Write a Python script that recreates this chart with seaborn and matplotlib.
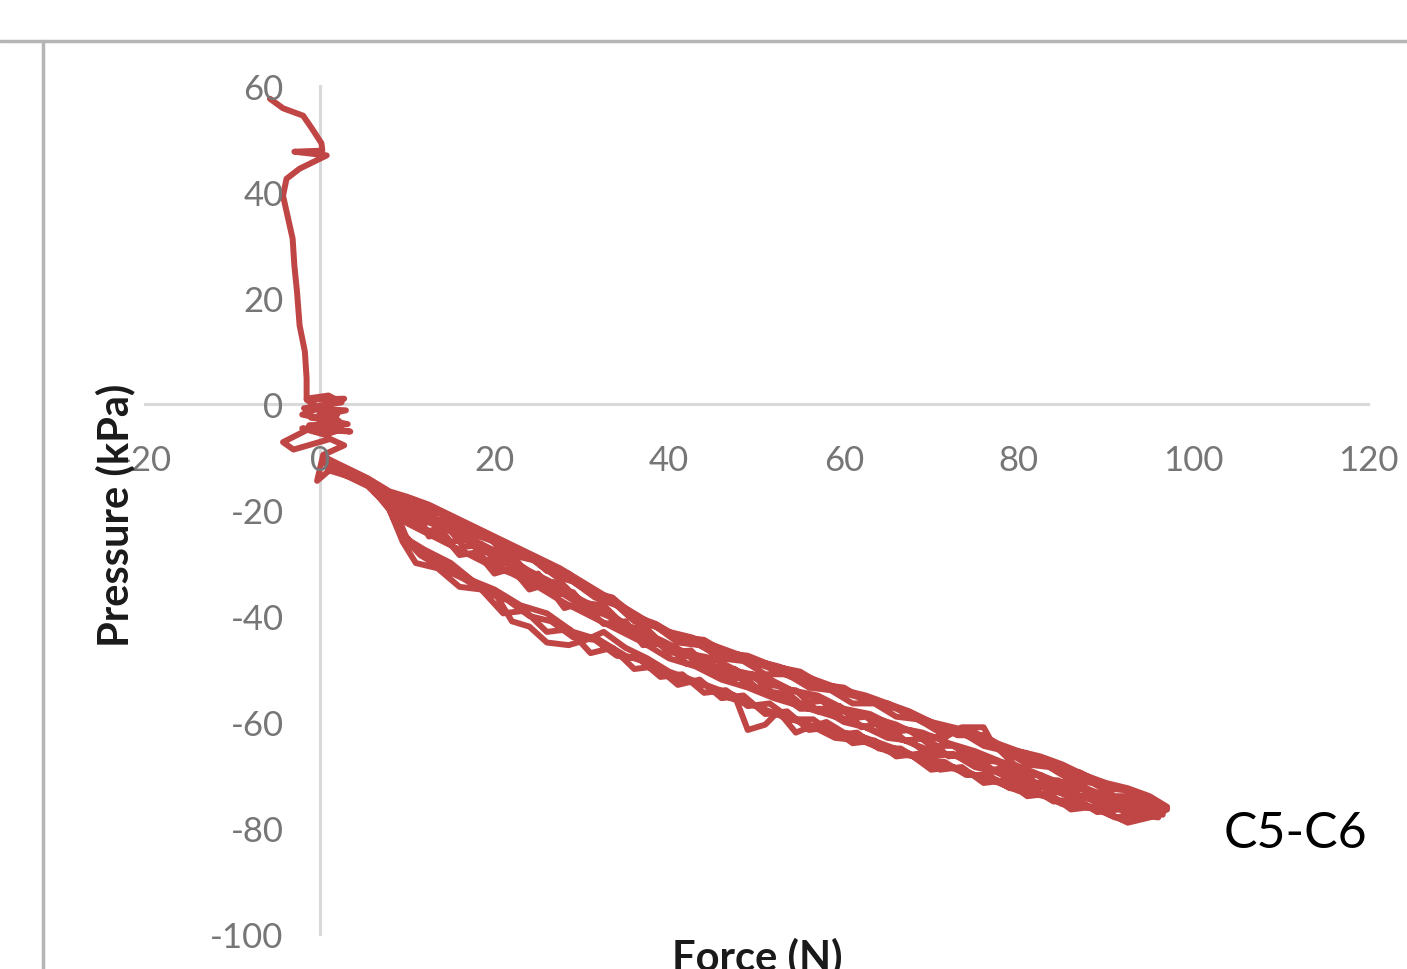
import matplotlib
matplotlib.use("Agg")
import matplotlib.pyplot as plt
from matplotlib.lines import Line2D
import seaborn as sns
import pandas as pd

# ---------------- data ----------------
descent_force = [-5.7, -4.2, -1.9, -0.9, 0.2, 0.3, -2.9, 0.8, -2.3, -3.8, -4.2, -3.7,
                 -3.1, -2.9, -2.6, -2.3, -1.7, -1.5, -1.5]
descent_pressure = [57.6, 55.8, 54.4, 52.0, 49.2, 47.8, 47.6, 46.9, 44.4, 42.5, 39.3, 35.6,
                    31.2, 26.1, 21.2, 14.8, 9.9, 4.8, 1.0]

origin_force = [1.0, 2.5, -1.8, 3.0, -1.0, 2.2, -1.5, 2.8, -2.0, 3.2, -1.2, 3.5, -2.0, 0.6,
                2.5, 0.0, 2.0, -4.2, -3.0, 1.2, 2.8, 0.4, -0.3, 1.6, 3.5, 0.8]
origin_pressure = [1.6, 0.3, -0.8, -1.2, -2.6, -3.2, 0.8, 1.0, -2.0, -3.8, -4.0, -5.2, -4.6, -5.8,
                   -4.8, -1.5, -2.0, -7.2, -8.6, -6.6, -7.8, -9.6, -14.5, -11.8, -13.0, -10.8]

pass1_force = [1, 3, 5.5, 8, 10, 12, 14, 15.5, 17.5, 20, 22, 24.5, 27, 29, 31.5, 34, 36, 38.5, 41,
               43.5, 46, 48.5, 51, 53.5, 56, 58.5, 61, 63.5, 66, 68.5, 71, 73.5, 76, 78.5, 81,
               83.5, 86, 88.5, 91, 93.5, 96]
pass1_pressure = [-11, -12.5, -14.5, -17, -19, -21, -22, -22.5, -24.5, -26, -28.5, -29.5, -32.5,
                  -33.5, -36.5, -38, -41, -42, -45, -45.5, -48, -48.5, -51, -51, -53.5, -54,
                  -56.5, -56.5, -59, -59.5, -62, -62, -64.5, -65.5, -68, -68.5, -71, -71.5, -74,
                  -74, -76]

pass2_force = [96.5, 94, 91.5, 89, 86.5, 84, 81.5, 79, 76.5, 74, 71.5, 69, 66.5, 64, 61.5, 59,
               56.5, 54, 51.5, 49, 46.5, 44, 41.5, 39, 36.5, 34, 31.5, 29, 26.5, 24, 21.5, 19,
               16.5, 14, 11.5, 9.5, 8, 5.5, 3, 1]
pass2_pressure = [-77, -78, -76.5, -77, -74.5, -75, -72.5, -72.5, -70, -70, -67.5, -67.5, -65,
                  -65, -62, -62.5, -59.5, -59.5, -56.5, -57, -54, -54.5, -51, -51.5, -48, -47.5,
                  -44.5, -44, -41, -40, -37, -35.5, -33, -31, -28.5, -25, -19.5, -15.5, -13.5, -12]

pass3_force = [0.5, 3, 5.5, 8, 9.5, 11, 12.5, 14, 16, 18, 20, 22, 24, 26, 28, 30, 32.5, 35, 37,
               39.5, 42, 44.5, 47, 49.5, 52, 54.5, 57, 59.5, 62, 64.5, 67, 69.5, 72, 74.5, 77,
               79.5, 82, 84.5, 87, 89.5, 92, 94.5, 96.5]
pass3_pressure = [-10.5, -13, -15, -18, -22, -20.5, -25, -24.5, -28.5, -28, -32, -31, -35, -34,
                  -38.5, -37.5, -41.5, -41, -45.5, -45, -49, -48.5, -52, -51, -55, -54, -58, -57,
                  -61, -60, -63.5, -63, -66.5, -65.5, -69, -68.5, -71.5, -71, -74, -73.5, -76.5,
                  -76, -77.5]

pass4_force = [96, 93, 90, 87, 84, 81, 78, 75, 72, 69, 66, 63, 60, 57, 54, 51, 48, 45, 42, 39,
               36, 33, 30, 27, 24, 21, 18, 15, 12, 9, 6, 3, 0.5]
pass4_pressure = [-75.5, -73, -72.5, -70.5, -68.5, -67, -65, -63, -61.5, -60, -57.5, -56, -54.5,
                  -53, -51.5, -49.5, -48, -46.5, -44.5, -42.5, -40, -37, -34.5, -31.5, -29, -26.5,
                  -24, -21.5, -19.5, -18.5, -15, -12.5, -10]

pass5_force = [1, 3.5, 6, 8.5, 10, 12, 15, 18, 20, 22, 24, 26, 28.5, 30.5, 32.5, 35, 37.5, 40,
               42.5, 45, 47.5, 49, 51, 52.5, 54.5, 56, 58, 60, 62.5, 65, 67.5, 70, 72.5, 75,
               77.5, 80, 82.5, 85, 87.5, 90, 92.5, 95]
pass5_pressure = [-11.5, -13.5, -15.5, -19.5, -25.5, -27.5, -30, -34, -35.5, -41, -42, -45, -45.5,
                  -44.5, -43, -46, -48, -50.5, -52, -53.5, -55, -61.5, -60.5, -58, -62, -61, -60,
                  -62, -63, -64.5, -66, -69, -68.5, -70, -71, -72, -73.5, -75.5, -75.5, -77, -79,
                  -78]

pass6_force = [97, 94, 91, 88, 85, 82, 79.5, 77, 76, 73.5, 71.5, 68.5, 66, 63, 60, 57, 54, 51,
               48, 45, 42, 39, 36, 33, 30, 27, 24, 21, 18, 15, 12, 9, 6.5, 3, 0.5]
pass6_pressure = [-76.5, -75.5, -75, -73, -72, -70, -68, -64, -61, -61, -63, -62.5, -60.5, -59,
                  -58, -55.5, -54, -52.5, -50.5, -49.5, -47.5, -45.5, -43, -40, -38, -35, -32.5,
                  -29.5, -27, -24, -22, -20, -15.5, -13, -11]

pass7_force = [1, 4, 7, 9.5, 11.5, 14, 16, 19, 21, 23.5, 26, 28.5, 31, 33.5, 36, 38.5, 41, 44,
               46.5, 49, 52, 55, 57.5, 60, 62.5, 65, 67.5, 70, 73, 76, 78.5, 81, 84, 87, 90, 93,
               95.5]
pass7_pressure = [-10.5, -13.5, -16, -18, -20.5, -20.5, -24, -24.5, -28, -28, -31.5, -32, -35.5,
                  -36.5, -40, -41.5, -44, -44.5, -47, -47.5, -49.5, -50.5, -53, -53.5, -56, -56.5,
                  -58.5, -60, -62.5, -62.5, -65, -66, -68.5, -69.5, -72, -73, -75]

pass8_force = [95, 92, 89, 86, 83, 80, 77, 74, 71, 68, 65, 62, 59, 56, 53, 50, 47, 44, 41, 38,
               35, 32, 29, 26, 23, 20, 17, 14, 11, 9, 7, 4, 1]
pass8_pressure = [-77.5, -78.5, -76.5, -75.5, -74, -73, -71, -69.5, -68, -66.5, -65.5, -63.5, -63,
                  -60.5, -59, -57, -55.5, -53, -52, -49, -47.5, -44.5, -43, -39.5, -38, -35, -33,
                  -30, -27, -23.5, -16.5, -14, -12.5]

pass9_force = [1, 4, 7, 9, 11, 13, 15, 17, 19, 21, 23, 25, 27, 29, 31, 33, 35, 37.5, 40, 42.5,
               45, 47.5, 50, 52.5, 55, 57.5, 60, 62.5, 65, 67.5, 70, 72.5, 75, 77.5, 80, 82.5,
               85, 87.5, 90, 92.5, 95]
pass9_pressure = [-11.5, -13, -16, -18.5, -23, -22, -26, -25.5, -29.5, -29, -33, -32, -36, -35.5,
                  -39.5, -39, -43, -43, -47, -46.5, -50.5, -50, -53.5, -53, -56.5, -56, -59.5, -59,
                  -62, -61.5, -64.5, -64.5, -67, -67.5, -70, -70, -72.5, -72.5, -75, -75, -77]

pass10_force = [96, 93.5, 91, 88.5, 86, 83.5, 81, 78.5, 76, 73.5, 71, 68.5, 66, 63.5, 61, 58.5,
                56, 53.5, 51, 48.5, 46, 43.5, 41, 38.5, 36, 33.5, 31, 28.5, 26, 23.5, 21, 18.5,
                16, 13.5, 11, 9.5, 8, 5.5, 3, 1]
pass10_pressure = [-78, -77.5, -78, -76, -76.5, -73.5, -74, -71, -71.5, -68.5, -69, -66, -66.5,
                   -63.5, -64, -61, -61.5, -58, -58.5, -55, -55.5, -52, -53, -49.5, -50, -46, -47,
                   -42.5, -43, -39, -39.5, -35, -34.5, -31, -30, -26, -20, -15, -13, -11.5]

pass11_force = [0.5, 3, 5.5, 8, 10, 12.5, 15, 17.5, 20, 22.5, 25, 27.5, 30, 32.5, 35, 37.5, 40,
                42.5, 45, 47.5, 50, 52.5, 55, 57.5, 60, 62.5, 65, 67.5, 70, 72.5, 75, 77.5, 80,
                82.5, 85, 87.5, 90, 92.5, 95, 97]
pass11_pressure = [-10, -12, -14, -16.5, -17.5, -19, -21, -23, -25, -27, -29, -31, -33.5, -36,
                   -38.5, -41, -43, -44, -45.5, -47, -48.5, -49.5, -51, -52.5, -54, -55, -56.5,
                   -58, -60, -61, -62, -64, -65.5, -66.5, -68, -70, -71.5, -72.5, -74, -76]

pass12_force = [96.5, 94, 91, 88, 85, 82, 79, 76, 73, 70, 67, 64, 61, 58, 55, 52, 49, 46, 43,
                40, 37, 34, 31, 28, 25, 22, 19, 16, 13, 10, 8, 5, 2.5, 0.5]
pass12_pressure = [-77, -76.5, -76, -74.5, -73.5, -72, -70, -68.5, -66.5, -65.5, -63.5, -62, -60,
                   -58.5, -57, -55.5, -53.5, -52, -49.5, -48, -45, -42.5, -40, -37.5, -34.5, -32,
                   -30, -27.5, -25, -22.5, -18, -14.5, -12.5, -10.5]

pass13_force = [1, 3.5, 6, 8.5, 10.5, 12.5, 14.5, 16.5, 18.5, 20.5, 22.5, 25, 27.5, 30, 32.5, 35,
                37.5, 40, 42.5, 45, 47.5, 50, 52.5, 55, 57.5, 60, 62.5, 65, 67.5, 70, 72.5, 75,
                77.5, 80, 82.5, 85, 87.5, 90, 92.5, 95]
pass13_pressure = [-11, -12.5, -15, -19, -21.5, -24, -23, -27, -26.5, -30.5, -29.5, -34, -33.5,
                   -37.5, -38, -42, -42.5, -46.5, -47.5, -50.5, -51, -54, -54.5, -57.5, -57.5, -60,
                   -61, -63, -63.5, -66.5, -66, -68.5, -69.5, -71.5, -71.5, -73.5, -74, -76,
                   -76.5, -76.5]

pass14_force = [96, 93, 90, 87, 84, 81, 78, 75, 72, 69, 66, 63, 60, 57, 54, 51, 48, 45, 42, 39,
                36, 33, 30, 27, 24, 21, 18, 15, 12, 9, 6, 3, 0.5]
pass14_pressure = [-76, -74.5, -74, -72, -71, -69, -67.5, -65.5, -64, -62, -61, -58.5, -57.5, -55,
                   -54, -51.5, -50.5, -48, -47, -44.5, -42.5, -39.5, -37, -34, -31.5, -28.5, -26,
                   -23.5, -21, -19.5, -15.5, -12.5, -10.5]

x_ticks = [-20, 0, 20, 40, 60, 80, 100, 120]
y_ticks = [-100, -80, -60, -40, -20, 0, 20, 40, 60]
label_text = "C5-C6"

# ---------------- assemble path ----------------
force_all = (descent_force + origin_force + pass1_force + pass2_force + pass3_force + pass4_force
             + pass5_force + pass6_force + pass7_force + pass8_force + pass9_force
             + pass10_force + pass11_force + pass12_force + pass13_force + pass14_force)
pressure_all = (descent_pressure + origin_pressure + pass1_pressure + pass2_pressure
                + pass3_pressure + pass4_pressure + pass5_pressure + pass6_pressure
                + pass7_pressure + pass8_pressure + pass9_pressure + pass10_pressure
                + pass11_pressure + pass12_pressure + pass13_pressure + pass14_pressure)
df = pd.DataFrame({"Force (N)": force_all, "Pressure (kPa)": pressure_all})

# ---------------- style ----------------
sns.set_theme(style="white")
plt.rcParams["font.family"] = ["Lato", "DejaVu Sans"]
plt.rcParams["axes.unicode_minus"] = False

W, H = 1407, 970
fig = plt.figure(figsize=(W / 100, H / 100), dpi=100)
ax = fig.add_axes([145 / W, 1 - 935 / H, 1223 / W, 848 / H])
ax.set_facecolor("none")

sns.lineplot(data=df, x="Force (N)", y="Pressure (kPa)", sort=False, estimator=None,
             color="#C04545", linewidth=4.3, ax=ax, zorder=2)

ax.set_xlim(-20, 120)
ax.set_ylim(-100, 60)
ax.set_xticks(x_ticks)
ax.set_yticks(y_ticks)
ax.set_xlabel("")
ax.set_ylabel("")

for s in ["top", "right"]:
    ax.spines[s].set_visible(False)
ax.spines["left"].set_position(("data", 0))
ax.spines["bottom"].set_position(("data", 0))
for s in ["left", "bottom"]:
    ax.spines[s].set_color("#d9d9d9")
    ax.spines[s].set_linewidth(2.2)
    ax.spines[s].set_zorder(1)

ax.set_axisbelow(False)
ax.tick_params(axis="both", direction="out", length=9, width=1.6, color="#d9d9d9",
               labelsize=25, labelcolor="#767676")
ax.tick_params(axis="x", pad=20)
ax.tick_params(axis="y", pad=17)
ax.grid(False)

# annotation
ax.text(103.5, -81, label_text, fontsize=36, color="black", ha="left", va="center")

# axis titles (positioned as in the reference)
fig.text(115 / W, 1 - 515 / H, "Pressure (kPa)", rotation=90, ha="center", va="center",
         fontsize=30, fontweight="bold", color="#1a1a1a")
fig.text(757 / W, 1 - 938 / H, "Force (N)", ha="center", va="top",
         fontsize=30, fontweight="bold", color="#1a1a1a")

# chart-area border fragments
fig.add_artist(Line2D([0, 1], [1 - 42 / H] * 2, transform=fig.transFigure,
                      color="#b5b5b5", linewidth=2.5))
fig.add_artist(Line2D([43 / W] * 2, [0, 1 - 42 / H], transform=fig.transFigure,
                      color="#b5b5b5", linewidth=2.5))

fig.savefig("out.png", dpi=100)
